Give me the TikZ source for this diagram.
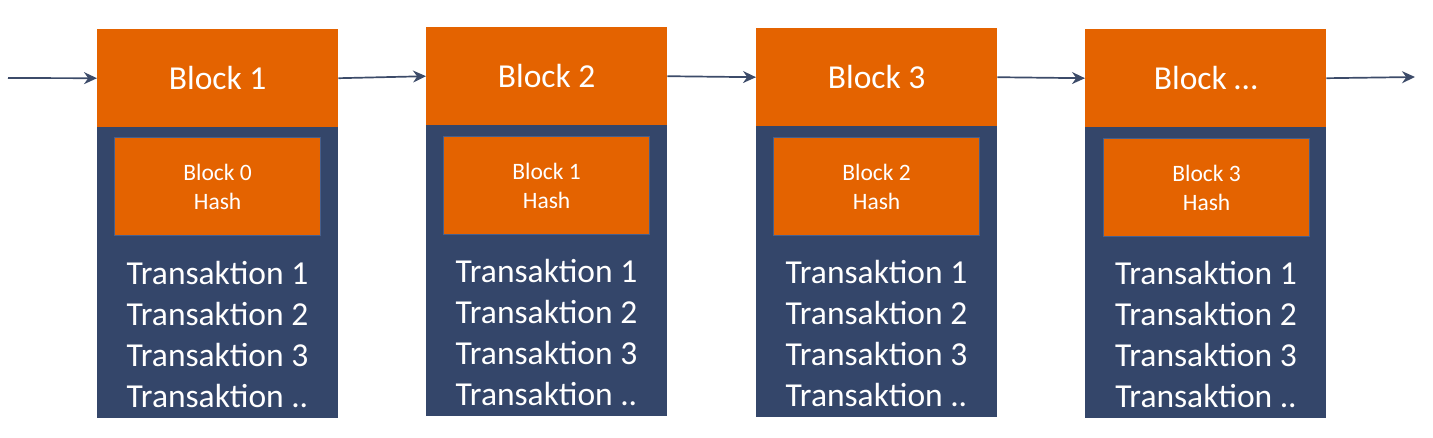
\documentclass[tikz,border=0pt]{standalone}
\usepackage{fontspec}
\setmainfont{Carlito}
\usetikzlibrary{arrows.meta}
\definecolor{blkorange}{RGB}{228,99,0}
\definecolor{blknavy}{RGB}{52,70,106}
\definecolor{hashedge}{RGB}{70,95,140}
\definecolor{arrcol}{RGB}{60,75,105}
\tikzset{
  topbox/.style={fill=blkorange, draw=none, anchor=north west, minimum width=241pt, minimum height=98pt, inner sep=0pt, text=white, font=\fontsize{33.5}{38}\selectfont},
  bodybox/.style={fill=blknavy, draw=none, anchor=north west, minimum width=241pt, minimum height=291pt, inner sep=0pt},
  hashbox/.style={fill=blkorange, draw=hashedge, line width=1.2pt, anchor=north west, minimum width=206pt, minimum height=98pt, inner sep=0pt, text=white, align=center, font=\fontsize{23.5}{29}\selectfont},
  txlist/.style={text=white, align=center, inner sep=0pt, font=\fontsize{33.5}{41}\selectfont},
  arr/.style={draw=arrcol, line width=1.7pt, -{Stealth[length=13pt,width=12pt]}}
}
\begin{document}
\begin{tikzpicture}[x=1pt,y=-1pt]
\useasboundingbox (0,0) rectangle (1433,437);
% block 1
\node[bodybox] (b1) at (97,127) {};
\node[topbox] (t1) at (97,29) {Block 1};
\node[hashbox] (h1) at (114,137) {Block 0\\Hash};
\node[txlist] (x1) at (217.5,334) {Transaktion 1\\Transaktion 2\\Transaktion 3\\Transaktion ..};
% block 2
\node[bodybox] (b2) at (426,125) {};
\node[topbox] (t2) at (426,27) {Block 2};
\node[hashbox] (h2) at (443,136) {Block 1\\Hash};
\node[txlist] (x2) at (546.5,332) {Transaktion 1\\Transaktion 2\\Transaktion 3\\Transaktion ..};
% block 3
\node[bodybox] (b3) at (756,126) {};
\node[topbox] (t3) at (756,28) {Block 3};
\node[hashbox] (h3) at (773,137) {Block 2\\Hash};
\node[txlist] (x3) at (876.5,333) {Transaktion 1\\Transaktion 2\\Transaktion 3\\Transaktion ..};
% block 4
\node[bodybox] (b4) at (1085,127) {};
\node[topbox] (t4) at (1085,29) {Block \dots};
\node[hashbox] (h4) at (1103,138) {Block 3\\Hash};
\node[txlist] (x4) at (1206,334) {Transaktion 1\\Transaktion 2\\Transaktion 3\\Transaktion ..};
% arrows
\coordinate (start) at (8,78);
\coordinate (finish) at (1415,77);
\draw[arr] (start) -- (t1.west);
\draw[arr] (t1.east) -- (t2.west);
\draw[arr] (t2.east) -- (t3.west);
\draw[arr] (t3.east) -- (t4.west);
\draw[arr] (t4.east) -- (finish);
\end{tikzpicture}
\end{document}
